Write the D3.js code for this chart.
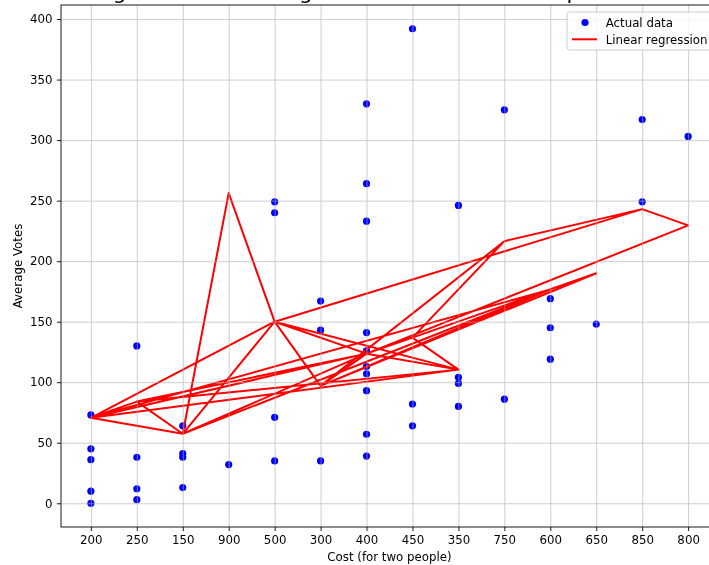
<!DOCTYPE html>
<html>
<head>
<meta charset="utf-8">
<script src="https://cdn.jsdelivr.net/npm/d3@7"></script>
<style>
  body { margin: 0; background: #fff; }
  svg { font-family: "DejaVu Sans", sans-serif; }
</style>
</head>
<body>
<div id="chart"></div>
<script>
// x categories in the order they first show up in the data
const categories = ['200', '250', '150', '900', '500', '300', '400', '450', '350', '750', '600', '650', '850', '800'];

// rows in data order (cost for two, average votes)
const cost = ['200', '250', '150', '900', '500', '300', '400', '450', '350', '200',
  '500', '350', '400', '200', '150', '500', '400', '250', '350', '450',
  '750', '300', '600', '400', '150', '600', '200', '400', '600', '300',
  '650', '400', '250', '400', '500', '850', '750', '450', '400', '200',
  '350', '250', '400', '150', '400', '800', '850'];
const votes = [73, 130, 64, 32, 249, 167, 330, 392, 246, 45,
  240, 104, 264, 36, 41, 71, 233, 38, 99, 82,
  325, 143, 169, 141, 38, 145, 10, 126, 119, 35,
  148, 113, 12, 107, 35, 317, 86, 64, 93, 0,
  80, 3, 57, 13, 39, 303, 249];

// fitted values of the regression, per cost
const fitCost = ['150', '200', '250', '300', '350', '400', '450', '500', '600', '650', '750', '800', '850', '900'];
const fitVotes = [57.4, 70.6, 84, 97, 110.4, 123.6, 136.8, 150, 176.6, 190, 216.5, 229.6, 243, 256.2];

const yTicks = [0, 50, 100, 150, 200, 250, 300, 350, 400];

const width = 709;
const height = 565;
const pL = 61, pR = 718, pT = 5, pB = 527;
const fs = 11.8;

const svg = d3.select('#chart')
  .append('svg')
  .attr('width', width)
  .attr('height', height);

const x = d3.scalePoint().domain(categories).range([pL, pR]).padding(0.65);
const y = d3.scaleLinear().domain([-19.6, 411.6]).range([pB, pT]);

const fitted = new Map(fitCost.map((c, i) => [c, fitVotes[i]]));
const rows = cost.map((c, i) => ({ c: c, v: votes[i], p: fitted.get(c) }));

svg.append('clipPath').attr('id', 'plot')
  .append('rect').attr('x', pL).attr('y', pT)
  .attr('width', pR - pL).attr('height', pB - pT);

const plot = svg.append('g').attr('clip-path', 'url(#plot)');

// scatter
plot.selectAll('circle')
  .data(rows)
  .enter()
  .append('circle')
  .attr('cx', d => x(d.c))
  .attr('cy', d => y(d.v))
  .attr('r', 3.6)
  .attr('fill', '#0000ff');

// grid (drawn above the dots, like matplotlib)
const grid = svg.append('g').attr('opacity', 0.7);
grid.append('g')
  .attr('transform', `translate(0,${pB})`)
  .call(d3.axisBottom(x).tickSize(-(pB - pT)).tickFormat(''))
  .call(g => g.select('.domain').remove())
  .selectAll('line').attr('stroke', '#b0b0b0').attr('stroke-width', 0.9);
grid.append('g')
  .attr('transform', `translate(${pL},0)`)
  .call(d3.axisLeft(y).tickValues(yTicks).tickSize(-(pR - pL)).tickFormat(''))
  .call(g => g.select('.domain').remove())
  .selectAll('line').attr('stroke', '#b0b0b0').attr('stroke-width', 0.9);

// regression line through the rows in order
const line = d3.line().x(d => x(d.c)).y(d => y(d.p));
plot.append('path')
  .datum(rows)
  .attr('d', line)
  .attr('fill', 'none')
  .attr('stroke', '#ff0000')
  .attr('stroke-width', 2)
  .attr('stroke-linejoin', 'round')
  .attr('stroke-linecap', 'butt');

// frame
svg.append('rect')
  .attr('x', pL).attr('y', pT)
  .attr('width', pR - pL).attr('height', pB - pT)
  .attr('fill', 'none').attr('stroke', '#000').attr('stroke-width', 0.9);

// axes
const xAxis = svg.append('g')
  .attr('transform', `translate(0,${pB})`)
  .call(d3.axisBottom(x).tickSize(4.1).tickPadding(4.5));
const yAxis = svg.append('g')
  .attr('transform', `translate(${pL},0)`)
  .call(d3.axisLeft(y).tickValues(yTicks).tickSize(4.1).tickPadding(4.5));
[xAxis, yAxis].forEach(a => {
  a.select('.domain').remove();
  a.selectAll('line').attr('stroke', '#000').attr('stroke-width', 0.9);
  a.selectAll('text').attr('font-size', fs).attr('font-family', 'DejaVu Sans').attr('fill', '#000');
});

svg.append('text')
  .attr('x', (pL + pR) / 2)
  .attr('y', 561)
  .attr('text-anchor', 'middle')
  .attr('font-size', fs)
  .text('Cost (for two people)');

svg.append('text')
  .attr('transform', `translate(22,${(pT + pB) / 2}) rotate(-90)`)
  .attr('text-anchor', 'middle')
  .attr('font-size', fs)
  .text('Average Votes');

// title, mostly cut off above the picture
svg.append('text')
  .attr('x', 12)
  .attr('y', -1)
  .attr('font-size', 21.5)
  .text('Linear Regression of Average Votes vs Cost for two persons');

// legend
const lg = svg.append('g');
lg.append('rect')
  .attr('x', 567).attr('y', 12)
  .attr('width', 146).attr('height', 38)
  .attr('rx', 3)
  .attr('fill', '#fff').attr('fill-opacity', 0.8)
  .attr('stroke', '#cccccc').attr('stroke-width', 1);
lg.append('circle').attr('cx', 585).attr('cy', 22.5).attr('r', 3.6).attr('fill', '#0000ff');
lg.append('line')
  .attr('x1', 572).attr('x2', 597).attr('y1', 39.3).attr('y2', 39.3)
  .attr('stroke', '#ff0000').attr('stroke-width', 2);
lg.append('text').attr('x', 605.7).attr('y', 26.6).attr('font-size', fs).text('Actual data');
lg.append('text').attr('x', 605.7).attr('y', 43.5).attr('font-size', fs).text('Linear regression');
</script>
</body>
</html>
